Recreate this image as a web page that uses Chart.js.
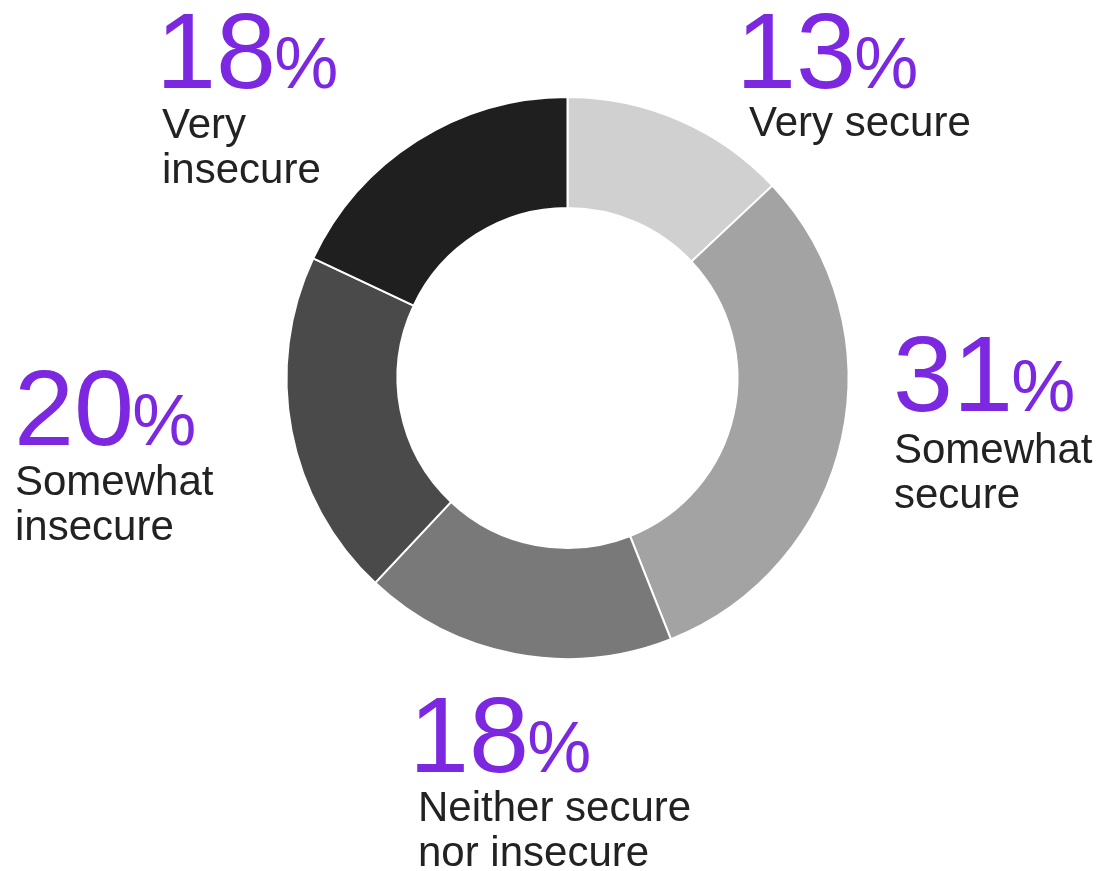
<!DOCTYPE html>
<html>
<head>
<meta charset="utf-8">
<script src="https://cdn.jsdelivr.net/npm/chart.js@4.4.1/dist/chart.umd.min.js"></script>
<style>
  html, body { margin: 0; padding: 0; background: #ffffff; }
  #wrap { width: 1104px; height: 871px; }
</style>
</head>
<body>
<div id="wrap"><canvas id="securityChart" width="1104" height="871"></canvas></div>
<script>
// dati del grafico
const categories = ["Very secure", "Somewhat secure", "Neither secure nor insecure", "Somewhat insecure", "Very insecure"];
const values = [13, 31, 18, 20, 18];
const sliceColors = ["#d0d0d0", "#a3a3a3", "#797979", "#4a4a4a", "#1f1f1f"];
// righe di testo delle etichette
const labelLines = [
  ["Very secure"],
  ["Somewhat", "secure"],
  ["Neither secure", "nor insecure"],
  ["Somewhat", "insecure"],
  ["Very", "insecure"]
];

// posizioni delle etichette (x numero, baseline numero, x testo, baseline prima riga)
const labelPos = [
  { nx: 736, ny: 88, tx: 749, ty: 136 },
  { nx: 893, ny: 411, tx: 894, ty: 463 },
  { nx: 409, ny: 772, tx: 418, ty: 821 },
  { nx: 14, ny: 445, tx: 15, ty: 495 },
  { nx: 156, ny: 88, tx: 162, ty: 138 }
];

const purple = "#7b28e0";
const textColor = "#222222";
const fontFamily = "'Liberation Sans', Arial, sans-serif";

// plugin per disegnare le etichette
const labelPlugin = {
  id: 'sliceLabels',
  afterDraw(chart) {
    const ctx = chart.ctx;
    ctx.save();
    ctx.textAlign = 'left';
    ctx.textBaseline = 'alphabetic';
    values.forEach(function(v, i) {
      const p = labelPos[i];
      const num = String(v);
      ctx.fillStyle = purple;
      ctx.font = "108px " + fontFamily;
      ctx.fillText(num, p.nx, p.ny);
      const w = ctx.measureText(num).width;
      ctx.font = "72px " + fontFamily;
      ctx.fillText("%", p.nx + w - 2, p.ny);
      ctx.fillStyle = textColor;
      ctx.font = "42px " + fontFamily;
      labelLines[i].forEach(function(line, j) {
        ctx.fillText(line, p.tx, p.ty + j * 45);
      });
    });
    ctx.restore();
  }
};

var ctx = document.getElementById('securityChart').getContext('2d');
new Chart(ctx, {
  type: 'doughnut',
  data: {
    labels: categories,
    datasets: [{
      data: values,
      backgroundColor: sliceColors,
      borderColor: '#ffffff',
      borderWidth: 2
    }]
  },
  options: {
    responsive: false,
    animation: false,
    events: [],
    cutout: '60.5%',
    layout: {
      padding: { left: 285.5, right: 254.5, top: 96, bottom: 211 }
    },
    plugins: {
      legend: { display: false },
      tooltip: { enabled: false }
    }
  },
  plugins: [labelPlugin]
});
</script>
</body>
</html>
